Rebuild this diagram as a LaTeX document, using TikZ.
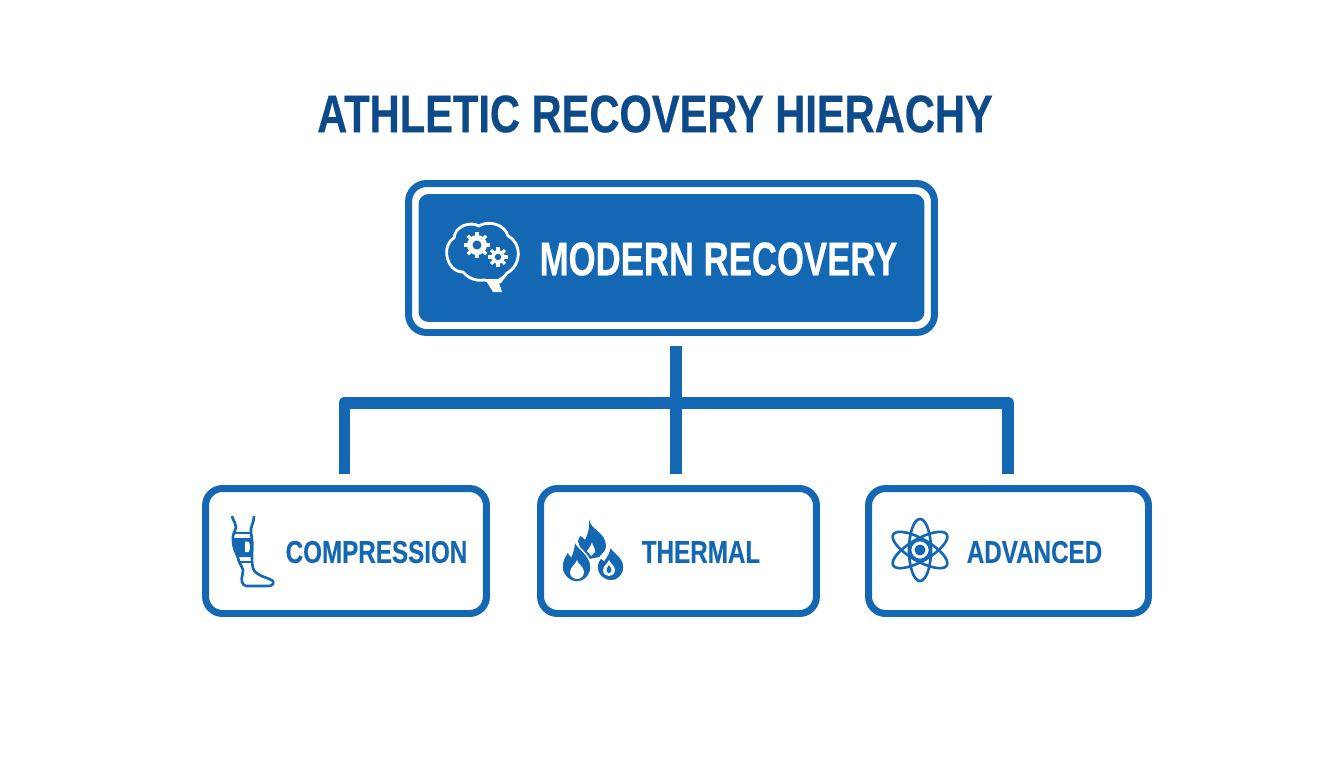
\documentclass[tikz,border=0pt]{standalone}
\usepackage{fontspec}
\newfontfamily\titlefont[FakeStretch=0.79,FakeBold=0.5]{Liberation Sans}
\newfontfamily\rootfont[FakeStretch=0.735,FakeBold=0.4]{Liberation Sans}
\newfontfamily\leaffont[FakeStretch=0.77,FakeBold=0.3]{Liberation Sans}
\definecolor{boxblue}{HTML}{1467B2}
\definecolor{titleblue}{HTML}{0C4A8A}
\tikzset{
    rootframe/.style={draw=boxblue,line width=3.97pt,rounded corners=0.36cm,minimum width=10.52cm,minimum height=2.98cm},
    rootfill/.style={fill=boxblue,rounded corners=0.2cm,minimum width=10.12cm,minimum height=2.56cm},
    leafbox/.style={draw=boxblue,line width=3.97pt,rounded corners=0.34cm,minimum height=2.5cm},
    leaflabel/.style={text=boxblue,font=\leaffont\bfseries\fontsize{17.9}{20}\selectfont,inner sep=0pt},
    link/.style={draw=boxblue,line width=6.8pt,line join=round},
    iconline/.style={draw=boxblue,line width=1.5pt,line join=round},
    iconfill/.style={fill=boxblue},
    flamecut/.style={fill=boxblue,draw=white,line width=0.8pt}
}
\begin{document}
\begin{tikzpicture}[x=0.02cm,y=-0.02cm]
    \useasboundingbox (0,0) rectangle (1344,768);
    \node (title) at (655,114) [text=titleblue,font=\titlefont\bfseries\fontsize{30}{34}\selectfont,inner sep=0pt] {ATHLETIC RECOVERY HIERACHY};
    % Root
    \node (rootouter) at (671.5,258) [rootframe] {};
    \node (root) at (671.5,258) [rootfill] {};
    \node (rootlabel) at (718.5,259) [text=white,font=\rootfont\bfseries\fontsize{26.9}{30}\selectfont,inner sep=0pt] {MODERN RECOVERY};
    % Leaves
    \node (compression) at (346,551) [leafbox,minimum width=5.62cm] {};
    \node (thermal) at (678.5,551) [leafbox,minimum width=5.52cm] {};
    \node (advanced) at (1008.5,551) [leafbox,minimum width=5.6cm] {};
    \node (complabel) at (376.5,552) [leaflabel] {COMPRESSION};
    \node (thermlabel) at (701,552) [leaflabel] {THERMAL};
    \node (advlabel) at (1034.5,552) [leaflabel] {ADVANCED};
    % Connectors
    \coordinate (trunk) at (676,403);
    \coordinate (busleft) at (344.5,403);
    \coordinate (busright) at (1008,403);
    \draw[link,shorten <=0.22cm,shorten >=0.22cm] (busleft |- compression.north) -- (busleft) -- (busright) -- (busright |- advanced.north);
    \draw[link,shorten <=0.2cm,shorten >=0.22cm] (trunk |- rootouter.south) -- (trunk |- thermal.north);
    % Brain
    \draw[draw=white,line width=1.6pt,fill=boxblue,line join=round] (463,272) .. controls (446,272) and (441,245) .. (454,238) .. controls (455,226) and (470,221) .. (479,226) .. controls (488,220) and (505,224) .. (508,236) .. controls (522,243) and (522,265) .. (507,273) .. controls (505,276) and (502,279) .. (500,282) .. controls (494,283) and (489,282) .. (485,280) .. controls (478,281) and (470,280) .. (463,272) -- cycle;
    \fill[white] (485,279) -- (493,292) -- (502,292) -- (499,283) -- (510,271) -- (498,279) -- cycle;
    \foreach \gx/\gy/\gr/\gh in {477/245/10/4.5, 498/257/6.8/3.2} {
        \begin{scope}[shift={(\gx,\gy)}]
            \fill[white] (0,0) circle (\gr);
            \foreach \a in {0,45,...,315}
                \draw[white,line width=1.9pt] (\a:\gr-1) -- (\a:\gr+3);
            \fill[boxblue] (0,0) circle (\gh);
        \end{scope}
    }
    % Leg
    \fill[boxblue] (233,538) -- (252,538) -- (251,557) -- (238,557) .. controls (235,552) and (233,546) .. (233,538) -- cycle;
    \fill[white] (245,541.5) -- (248.5,541.5) .. controls (250.5,544) and (250.5,550) .. (248.5,552) -- (245,552) -- cycle;
    \draw[iconline] (232,516) .. controls (233,521) and (236,523) .. (236,527) .. controls (235,532) and (232,535) .. (233,540) .. controls (233,548) and (236,552) .. (238,558) .. controls (239,563) and (242,566) .. (243,570) .. controls (243,574) and (241,578) .. (242,582) .. controls (243,585) and (244,585) .. (246,586) .. controls (254,586) and (262,586) .. (268,586) .. controls (272,586) and (274,584) .. (273,581) .. controls (269,578) and (262,577) .. (258,574) .. controls (255,572) and (253,570) .. (253,568) .. controls (252,564) and (252,560) .. (252,555) .. controls (252,549) and (253,545) .. (252,540) .. controls (252,535) and (250,533) .. (251,529) .. controls (252,524) and (254,521) .. (254,516);
    \draw[iconline,line width=1.2pt] (234,533) -- (252,533);
    \draw[iconline,line width=1.2pt] (239,562) -- (252,562);
    % Flames
    \fill[boxblue] (589,519) .. controls (590,530) and (606,532) .. (606,546) .. controls (606,550) and (603,553) .. (599,557) -- (584,560) -- (578,541) -- (580,536) .. controls (582,537) and (584,538) .. (585,540) .. controls (588,534) and (590,527) .. (589,519) -- cycle;
    \fill[white] (592,542) .. controls (592,546) and (596,548) .. (595,552) -- (591,556) -- (587,551) .. controls (589,548) and (591,546) .. (592,542) -- cycle;
    \path[flamecut] (574,539) .. controls (576,548) and (591,554) .. (591,567) .. controls (591,576) and (584,582) .. (577,582) .. controls (569,582) and (562,575) .. (562,567) .. controls (562,560) and (565,556) .. (568,551) .. controls (569,554) and (570,555) .. (571,556) .. controls (573,551) and (575,545) .. (574,539) -- cycle;
    \path[flamecut] (610,545) .. controls (611,551) and (624,556) .. (624,567) .. controls (624,575) and (618,581) .. (611,581) .. controls (604,581) and (597,575) .. (597,567) .. controls (597,563) and (599,560) .. (601,557) .. controls (602,559) and (603,560) .. (604,560) .. controls (607,556) and (610,551) .. (610,545) -- cycle;
    \fill[white] (577,560) .. controls (578,564) and (584,567) .. (584,572) .. controls (584,576) and (581,579) .. (577,579) .. controls (573,579) and (570,576) .. (570,572) .. controls (570,567) and (576,564) .. (577,560) -- cycle;
    \fill[white] (609,560) .. controls (610,563) and (615,566) .. (615,570) .. controls (615,574) and (612,576) .. (609,576) .. controls (606,576) and (603,574) .. (603,570) .. controls (603,566) and (608,563) .. (609,560) -- cycle;
    \fill[boxblue] (609,565) .. controls (610,567) and (611.5,568) .. (611.5,570) .. controls (611.5,572) and (610,573) .. (609,573) .. controls (608,573) and (606.5,572) .. (606.5,570) .. controls (606.5,568) and (608,567) .. (609,565) -- cycle;
    % Atom
    \foreach \a in {0,60,120}
        \draw[iconline,rotate around={\a:(920,550)}] (920,550) ellipse (11 and 31);
    \draw[iconline] (920,550) circle (10);
    \fill[iconfill] (920,550) circle (5.5);
\end{tikzpicture}
\end{document}
